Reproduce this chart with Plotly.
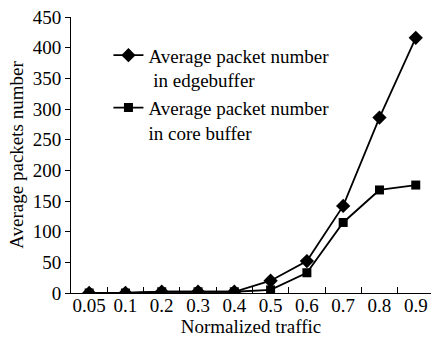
import plotly.graph_objects as go

categories = ["0.05", "0.1", "0.2", "0.3", "0.4", "0.5", "0.6", "0.7", "0.8", "0.9"]
edge_buffer = [0, 0, 2, 2, 2, 20, 52, 142, 286, 416]
core_buffer = [0, 0, 2, 2, 2, 5, 33, 115, 168, 176]
y_ticks = [0, 50, 100, 150, 200, 250, 300, 350, 400, 450]

FAM = "Liberation Serif"
FS = 19

fig = go.Figure()
fig.add_trace(go.Scatter(
    x=categories, y=edge_buffer, mode="lines+markers",
    name="Average packet number<br> in edgebuffer",
    line=dict(color="black", width=1.8),
    marker=dict(symbol="diamond", size=11, color="black"),
))
fig.add_trace(go.Scatter(
    x=categories, y=core_buffer, mode="lines+markers",
    name="Average packet number<br>in core buffer",
    line=dict(color="black", width=1.8),
    marker=dict(symbol="square", size=9, color="black"),
))

fig.update_layout(
    width=431, height=343,
    margin=dict(l=71, r=0, t=17, b=50, autoexpand=False),
    paper_bgcolor="white", plot_bgcolor="white",
    font=dict(family=FAM, size=FS, color="black"),
    showlegend=True,
    legend=dict(
        x=0.104, y=0.93, xanchor="left", yanchor="top",
        bgcolor="rgba(0,0,0,0)", borderwidth=0,
        font=dict(family=FAM, size=FS, color="black"),
        valign="top", tracegroupgap=0, itemwidth=30,
    ),
    xaxis=dict(
        type="category", categoryorder="array", categoryarray=categories,
        range=[-0.5, 9.42], automargin=False,
        showline=True, linecolor="black", linewidth=1,
        ticks="inside", ticklen=6, tickcolor="black", tickson="boundaries",
        showgrid=False, zeroline=False, tickangle=0, ticklabelstandoff=-5,
        title=dict(text="Normalized traffic", standoff=2, font=dict(family=FAM, size=FS)),
        tickfont=dict(family=FAM, size=FS),
    ),
    yaxis=dict(
        range=[0, 450], automargin=False,
        tickvals=y_ticks,
        showline=True, linecolor="black", linewidth=1,
        ticks="outside", ticklen=5, tickcolor="black",
        showgrid=False, zeroline=False,
        title=dict(text="Average packets number", standoff=4, font=dict(family=FAM, size=FS)),
        tickfont=dict(family=FAM, size=FS),
    ),
)

fig.write_html("out.html")
